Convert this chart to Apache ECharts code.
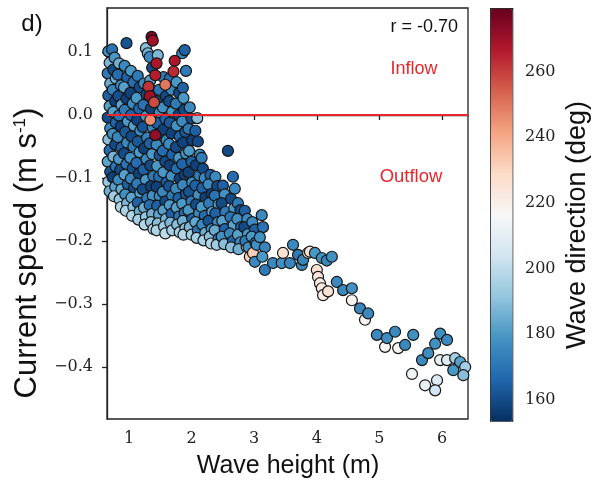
<!DOCTYPE html>
<html><head><meta charset="utf-8">
<script src="https://cdn.jsdelivr.net/npm/echarts@6/dist/echarts.min.js"></script>
<style>html,body{margin:0;padding:0;background:#fff}#c{width:603px;height:489px}</style>
</head><body><div id="c"></div>
<script>
// ---- axis ticks / ranges ----
const xTicks = [1, 2, 3, 4, 5, 6];
const yTicks = [-0.4, -0.3, -0.2, -0.1, 0.0, 0.1];
const dirTicks = [160, 180, 200, 220, 240, 260];
const xRange = [0.6486, 6.415];
const yRange = [-0.4825, 0.1698];
const dirRange = [153.7, 279.4];
const rdBuR = ['#053061','#2166ac','#4393c3','#92c5de','#d1e5f0','#f7f7f7','#fddbc7','#f4a582','#d6604d','#b2182b','#67001f'];

// ---- observations: [wave height (m), current speed (m/s), wave direction (deg)] ----
const cloudLeft = [
 [0.67,0.101,178],[0.69,0.083,188],[0.66,0.066,172],[0.70,0.050,185],[0.67,0.031,165],[0.69,0.014,182],[0.66,-0.004,160],[0.70,-0.021,176],[0.67,-0.039,190],[0.69,-0.056,168],[0.66,-0.074,183],[0.70,-0.090,162],[0.67,-0.106,192],[0.69,-0.121,186],
 [0.73,0.104,170],[0.77,0.091,180],[0.75,0.072,160],[0.79,0.058,186],[0.74,0.040,174],[0.78,0.022,158],[0.75,0.005,182],[0.79,-0.012,166],[0.74,-0.030,178],[0.78,-0.047,160],[0.75,-0.066,187],[0.79,-0.082,171],[0.74,-0.099,158],[0.78,-0.114,182],[0.76,-0.129,194],
 [0.84,0.082,186],[0.82,0.064,168],[0.87,0.047,176],[0.83,0.030,161],[0.88,0.016,183],[0.84,-0.001,170],[0.87,-0.018,158],[0.82,-0.035,175],[0.88,-0.052,165],[0.84,-0.070,180],[0.86,-0.087,160],[0.83,-0.103,176],[0.88,-0.118,185],[0.85,-0.134,192],[0.87,-0.146,197],
 [0.96,0.114,162],[0.93,0.078,176],[0.97,0.060,165],[0.92,0.044,182],[0.96,0.026,158],[0.93,0.008,172],[0.98,-0.010,180],[0.94,-0.027,163],[0.97,-0.044,176],[0.92,-0.061,160],[0.96,-0.078,170],[0.93,-0.095,182],[0.98,-0.110,165],[0.94,-0.126,178],[0.97,-0.140,188],[0.95,-0.152,196],
 [1.03,0.070,180],[1.07,0.052,168],[1.02,0.035,158],[1.06,0.018,176],[1.03,0.000,165],[1.08,-0.017,182],[1.04,-0.034,160],[1.07,-0.050,172],[1.02,-0.068,178],[1.06,-0.085,161],[1.03,-0.101,175],[1.08,-0.116,160],[1.04,-0.131,183],[1.07,-0.146,190],[1.05,-0.160,198],
 [1.14,0.062,172],[1.17,0.044,160],[1.12,0.027,180],[1.16,0.010,166],[1.13,-0.008,158],[1.18,-0.025,176],[1.14,-0.042,163],[1.17,-0.059,180],[1.12,-0.076,168],[1.16,-0.093,158],[1.13,-0.109,172],[1.18,-0.124,182],[1.14,-0.139,165],[1.17,-0.153,186],[1.15,-0.166,195],
 [1.27,0.106,190],[1.30,0.098,186],[1.24,0.050,176],[1.28,0.033,160],[1.23,0.016,170],[1.27,-0.002,180],[1.22,-0.019,162],[1.29,-0.036,174],[1.24,-0.053,158],[1.28,-0.070,176],[1.23,-0.087,165],[1.27,-0.103,180],[1.22,-0.118,160],[1.29,-0.132,172],[1.24,-0.147,185],[1.27,-0.162,192],[1.25,-0.174,198]
];
const inflowPoints = [
 [1.36,0.124,276],[1.38,0.118,270],[1.44,0.082,268],[1.42,0.063,266],[1.73,0.086,268],[1.71,0.069,264],[1.31,0.045,262],[1.33,0.030,270],[1.40,0.020,258],[1.58,0.048,250],[1.34,-0.008,246],[1.42,-0.032,272]
];
const cloudMid = [
 [1.33,0.092,176],[1.37,0.075,160],[1.34,0.055,182],[1.39,0.038,168],[1.35,0.010,158],[1.38,-0.020,175],[1.33,-0.045,165],[1.37,-0.062,180],[1.34,-0.080,160],[1.39,-0.097,172],[1.35,-0.113,158],[1.38,-0.128,178],[1.33,-0.143,168],[1.37,-0.157,186],[1.35,-0.170,192],[1.39,-0.181,199],
 [1.46,0.095,188],[1.48,0.040,170],[1.44,0.022,160],[1.49,0.004,178],[1.45,-0.013,165],[1.48,-0.030,158],[1.44,-0.047,176],[1.49,-0.064,162],[1.45,-0.081,180],[1.48,-0.098,168],[1.44,-0.114,158],[1.49,-0.129,176],[1.45,-0.144,165],[1.48,-0.158,183],[1.46,-0.172,190],[1.44,-0.183,197],
 [1.55,0.060,172],[1.59,0.030,160],[1.54,0.012,178],[1.58,-0.006,166],[1.55,-0.023,158],[1.60,-0.040,176],[1.54,-0.057,168],[1.58,-0.074,160],[1.55,-0.091,180],[1.60,-0.107,165],[1.54,-0.122,175],[1.58,-0.137,160],[1.55,-0.151,182],[1.59,-0.165,187],[1.56,-0.177,194],[1.58,-0.188,200],
 [1.65,0.058,168],[1.68,0.040,176],[1.64,0.022,160],[1.69,0.005,180],[1.65,-0.012,163],[1.68,-0.029,158],[1.64,-0.046,176],[1.69,-0.063,165],[1.65,-0.080,158],[1.68,-0.097,178],[1.64,-0.113,162],[1.69,-0.128,172],[1.65,-0.143,180],[1.68,-0.157,165],[1.66,-0.171,188],[1.69,-0.183,195],
 [1.85,0.098,176],[1.89,0.103,165],[1.76,0.052,180],[1.80,0.035,160],[1.75,0.018,172],[1.79,0.000,158],[1.76,-0.017,178],[1.81,-0.034,166],[1.75,-0.051,160],[1.80,-0.068,180],[1.76,-0.085,168],[1.81,-0.101,158],[1.75,-0.117,176],[1.79,-0.132,165],[1.76,-0.147,182],[1.80,-0.161,170],[1.77,-0.174,190],[1.81,-0.186,196],
 [1.86,0.043,165],[1.87,0.027,180],[1.91,0.070,172],[1.88,0.008,160],[1.85,-0.010,176],[1.90,-0.027,163],[1.86,-0.044,158],[1.91,-0.061,178],[1.85,-0.078,166],[1.89,-0.095,158],[1.86,-0.111,175],[1.91,-0.126,162],[1.85,-0.141,180],[1.89,-0.155,168],[1.86,-0.168,186],[1.90,-0.180,192],[1.87,-0.190,198],
 [1.97,0.012,176],[2.00,-0.006,160],[1.95,-0.022,172],[2.01,-0.040,158],[1.96,-0.057,180],[2.00,-0.074,165],[1.95,-0.091,158],[2.01,-0.107,176],[1.96,-0.122,162],[2.00,-0.137,172],[1.95,-0.151,180],[2.01,-0.165,166],[1.97,-0.178,188],[2.00,-0.190,194],
 [2.09,-0.005,190],[2.06,-0.025,165],[2.10,-0.042,160],[2.13,-0.063,176],[2.07,-0.080,158],[2.12,-0.096,172],[2.06,-0.112,165],[2.11,-0.127,178],[2.07,-0.142,160],[2.12,-0.156,176],[2.06,-0.170,184],[2.10,-0.183,170],[2.08,-0.195,195]
];
const cloudRight = [
 [2.16,-0.068,172],[2.18,-0.085,160],[2.21,-0.100,176],[2.17,-0.116,165],[2.22,-0.131,158],[2.16,-0.146,180],[2.21,-0.160,168],[2.17,-0.174,176],[2.21,-0.196,250],[2.22,-0.187,186],[2.19,-0.199,196],
 [2.30,-0.095,165],[2.27,-0.110,176],[2.32,-0.125,158],[2.28,-0.140,172],[2.33,-0.154,182],[2.27,-0.168,162],[2.32,-0.181,178],[2.29,-0.193,190],[2.31,-0.204,198],
 [2.38,-0.098,176],[2.41,-0.113,160],[2.37,-0.128,170],[2.43,-0.142,180],[2.38,-0.156,165],[2.42,-0.170,176],[2.37,-0.183,185],[2.43,-0.196,172],[2.40,-0.206,194],
 [2.58,-0.057,160],[2.50,-0.112,165],[2.53,-0.126,178],[2.48,-0.140,160],[2.54,-0.154,172],[2.49,-0.168,182],[2.53,-0.181,166],[2.48,-0.193,178],[2.52,-0.205,190],
 [2.66,-0.098,168],[2.69,-0.117,176],[2.63,-0.133,160],[2.68,-0.148,180],[2.62,-0.162,170],[2.67,-0.175,183],[2.61,-0.188,175],[2.66,-0.200,165],[2.63,-0.210,190],
 [2.74,-0.140,172],[2.78,-0.151,160],[2.73,-0.165,178],[2.79,-0.178,168],[2.74,-0.190,182],[2.78,-0.202,176],[2.75,-0.213,186],
 [2.88,-0.209,230],[2.93,-0.225,232],
 [2.85,-0.152,165],[2.89,-0.165,176],[2.84,-0.178,160],[2.90,-0.189,180],[2.86,-0.200,172],[2.91,-0.210,178],
 [2.97,-0.170,176],[3.01,-0.182,165],[2.96,-0.193,180],[3.02,-0.203,170],[2.98,-0.219,232],[3.01,-0.233,176],[3.04,-0.206,178],
 [3.12,-0.159,176],[3.14,-0.178,170],[3.09,-0.194,178],[3.17,-0.210,175],[3.17,-0.246,172],[3.13,-0.225,180]
];
const tailPoints = [
 [3.30,-0.235,176],[3.44,-0.235,178],[3.46,-0.219,226],[3.57,-0.235,175],[3.62,-0.206,176],[3.70,-0.222,172],[3.76,-0.238,176],[3.78,-0.230,175],[3.86,-0.219,228],[3.89,-0.217,226],[3.97,-0.219,180],
 [4.00,-0.246,226],[4.02,-0.257,224],[4.05,-0.267,222],[4.08,-0.275,222],[4.10,-0.286,220],[4.18,-0.280,226],[4.08,-0.227,178],[4.16,-0.231,175],[4.24,-0.225,178],
 [4.32,-0.265,176],[4.42,-0.278,176],[4.56,-0.294,218],[4.56,-0.275,178],[4.69,-0.307,175],[4.77,-0.325,218],[4.82,-0.315,176],
 [5.09,-0.368,216],[5.30,-0.370,218],[4.96,-0.349,176],[5.12,-0.354,177],[5.25,-0.344,176],[5.41,-0.365,176],[5.54,-0.349,178],
 [5.52,-0.411,215],[5.73,-0.429,212],[5.92,-0.421,208],[5.89,-0.437,205],[5.97,-0.389,212],[6.08,-0.389,210],
 [5.68,-0.389,176],[5.78,-0.378,177],[5.89,-0.363,178],[5.97,-0.347,178],[6.08,-0.357,176],
 [6.21,-0.386,195],[6.29,-0.392,182],[6.37,-0.400,195],[6.18,-0.405,180],[6.34,-0.413,190]
];

const allPoints = [].concat(cloudLeft, cloudMid, cloudRight, inflowPoints, tailPoints);
const fmtY = v => (v < 0 ? '\u2212' : '') + Math.abs(v).toFixed(1);
const serif = 'DejaVu Serif';
const sans = 'Liberation Sans';

const chart = echarts.init(document.getElementById('c'), null, {renderer: 'canvas'});
chart.setOption({
  animation: false,
  backgroundColor: '#fff',
  grid: [
    {left: 107, top: 8, width: 361, height: 411, show: true, borderColor: '#222', borderWidth: 1.3, backgroundColor: 'transparent'},
    {left: 490, top: 8, width: 22, height: 412.5, show: false}
  ],
  xAxis: [
    {type: 'value', gridIndex: 0, min: xRange[0], max: xRange[1],
     splitLine: {show: false},
     axisLine: {show: true, lineStyle: {color: '#222', width: 1.3}},
     axisTick: {show: true, customValues: xTicks, length: 5, inside: false, lineStyle: {color: '#222', width: 1.3}},
     axisLabel: {customValues: xTicks, margin: 12, fontFamily: serif, fontSize: 16, color: '#222'}},
    {type: 'value', gridIndex: 1, min: 0, max: 1, show: false}
  ],
  yAxis: [
    {type: 'value', gridIndex: 0, min: yRange[0], max: yRange[1],
     splitLine: {show: false},
     axisLine: {show: true, lineStyle: {color: '#222', width: 1.3}},
     axisTick: {show: true, customValues: yTicks, length: 5, inside: false, lineStyle: {color: '#222', width: 1.3}},
     axisLabel: {customValues: yTicks, margin: 14, fontFamily: serif, fontSize: 16, color: '#222', formatter: fmtY}},
    {type: 'value', gridIndex: 1, position: 'right', min: dirRange[0], max: dirRange[1],
     splitLine: {show: false},
     axisLine: {show: false},
     axisTick: {show: true, customValues: dirTicks, length: 6, inside: false, lineStyle: {color: '#222', width: 1.3}},
     axisLabel: {customValues: dirTicks, margin: 13, fontFamily: serif, fontSize: 16, color: '#222'}}
  ],
  visualMap: {
    type: 'continuous', dimension: 2, seriesIndex: 0,
    min: dirRange[0], max: dirRange[1],
    inRange: {color: rdBuR},
    calculable: false, hoverLink: false, realtime: false,
    orient: 'vertical', left: 490, top: 8,
    itemWidth: 22, itemHeight: 412.5, padding: 0,
    text: null, showLabel: false,
    borderColor: '#222', borderWidth: 1.3
  },
  series: [{
    type: 'scatter', xAxisIndex: 0, yAxisIndex: 0,
    data: allPoints, symbolSize: 11, clip: true,
    itemStyle: {borderColor: '#161616', borderWidth: 1.2, opacity: 1},
    markLine: {
      silent: true, symbol: ['none', 'none'], z: 10,
      label: {show: false},
      lineStyle: {color: '#e8262c', width: 2, type: 'solid'},
      data: [{yAxis: 0}]
    }
  }],
  graphic: [
    {type: 'text', x: 32, y: 24, style: {text: 'd)', font: '24px ' + sans, fill: '#111', align: 'center', verticalAlign: 'middle'}},
    {type: 'text', x: 27, y: 253, rotation: Math.PI / 2,
     style: {text: '{a|Current speed (m s}{b|-1}{a|)}', align: 'center', verticalAlign: 'middle', fill: '#111',
       rich: {a: {fontSize: 31, fontFamily: sans, fill: '#111'}, b: {fontSize: 17, fontFamily: sans, fill: '#111', verticalAlign: 'top'}}}},
    {type: 'text', x: 288, y: 466, style: {text: 'Wave height (m)', font: '25px ' + sans, fill: '#111', align: 'center', verticalAlign: 'middle'}},
    {type: 'text', x: 578, y: 225, rotation: Math.PI / 2,
     style: {text: 'Wave direction (deg)', font: '27px ' + sans, fill: '#111', align: 'center', verticalAlign: 'middle'}},
    {type: 'text', x: 458, y: 27, style: {text: 'r = -0.70', font: '18px ' + sans, fill: '#111', align: 'right', verticalAlign: 'middle'}},
    {type: 'text', x: 414, y: 69, style: {text: 'Inflow', font: '18px ' + sans, fill: '#e8262c', align: 'center', verticalAlign: 'middle'}},
    {type: 'text', x: 411, y: 177, style: {text: 'Outflow', font: '18.5px ' + sans, fill: '#e8262c', align: 'center', verticalAlign: 'middle'}}
  ]
});
</script>
</body></html>
